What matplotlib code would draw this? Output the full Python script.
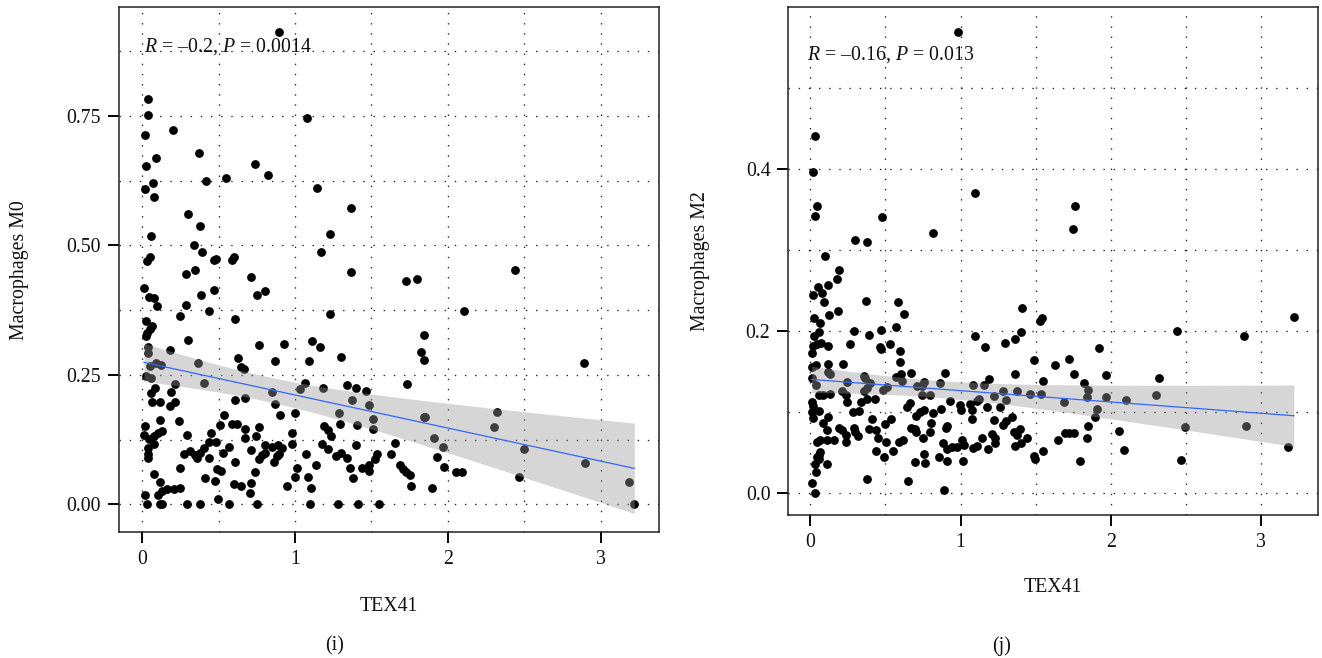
import numpy as np
import matplotlib
matplotlib.use("Agg")
import matplotlib.pyplot as plt
from matplotlib.ticker import MultipleLocator, FixedLocator

plt.rcParams['font.family'] = ['Liberation Serif', 'DejaVu Serif']
plt.rcParams['mathtext.fontset'] = 'custom'
plt.rcParams['mathtext.it'] = 'Liberation Serif:italic'
plt.rcParams['mathtext.rm'] = 'Liberation Serif'

# ---------------- Panel (i): TEX41 vs Macrophages M0 ----------------
m0_tex41 = [
    0.893, 0.035, 0.037, 0.015, 0.199, 1.081, 0.369, 0.090, 0.026, 0.738,
    0.823, 0.419, 0.550, 0.068, 0.015, 0.079, 1.142, 1.367, 0.301, 0.378,
    0.059, 1.227, 0.338, 0.393, 1.170, 0.028, 0.048, 0.468, 0.482, 0.590,
    0.600,
    0.287, 0.348, 0.711, 1.363, 0.011, 0.043, 0.076, 0.096, 0.385, 0.472,
    0.754, 0.802, 0.287, 0.439, 0.246, 0.607, 1.226, 0.022, 0.065, 0.048,
    0.030, 0.026, 0.298, 0.037, 0.039, 0.183, 0.765, 0.930, 1.111, 1.161,
    1.298, 0.626, 0.643, 0.665, 0.870, 1.089, 0.365, 0.050, 0.087, 0.120,
    0.026, 0.054, 0.083, 0.217, 0.191, 0.057, 0.402, 0.607, 0.670, 0.061,
    0.115, 0.217, 0.180, 0.535, 0.852, 0.870, 0.900, 1.000, 1.030, 1.063,
    1.185, 1.341, 1.400, 1.463, 1.370, 1.485, 1.287, 1.407, 1.513, 1.509,
    1.293, 0.115, 0.241, 0.511, 0.587, 0.620, 0.670, 0.761, 1.189, 1.213,
    1.233, 0.983, 0.017, 0.013, 0.043, 0.078, 0.104, 0.130, 0.291, 0.452,
    0.670, 0.746, 0.078, 0.035, 0.039, 0.039, 0.270, 0.315, 0.343, 0.361,
    0.380, 0.407, 0.435, 0.485, 0.439, 0.530, 0.565, 0.711, 0.804, 0.848,
    0.887, 0.913, 0.898, 0.883, 0.761, 0.785, 0.804, 0.861, 0.604, 0.978,
    1.072, 1.176, 1.217, 1.270, 1.302, 1.339, 1.402, 1.539, 1.526, 1.361,
    1.441, 1.483, 1.487, 0.246, 0.491, 0.515, 0.741, 1.015, 1.000, 1.139,
    0.074, 0.117, 0.409, 0.478, 0.600, 0.648, 0.711, 0.702, 0.946, 1.083,
    1.102, 1.380, 0.015, 0.104, 0.126, 0.165, 0.207, 0.246, 0.496, 0.033,
    0.115, 0.130, 0.293, 0.380, 0.565, 0.754, 1.098, 1.278, 1.411, 1.552,
    1.726, 1.798, 2.439, 2.104, 1.846, 1.826, 1.846, 2.889, 1.735, 1.846,
    1.852, 2.324, 2.302, 1.911, 1.970, 1.652, 1.630, 1.928, 1.972, 1.689,
    1.704, 1.726, 1.754, 1.757, 1.898, 2.054, 2.091, 2.496, 2.467, 2.898,
    3.185, 3.220,
]
m0_values = [
    0.912, 0.783, 0.751, 0.713, 0.723, 0.745, 0.679, 0.669, 0.653, 0.656,
    0.635, 0.625, 0.630, 0.620, 0.608, 0.594, 0.611, 0.572, 0.560, 0.537,
    0.518, 0.522, 0.501, 0.487, 0.487, 0.470, 0.478, 0.471, 0.473, 0.471,
    0.478,
    0.445, 0.452, 0.439, 0.448, 0.418, 0.401, 0.398, 0.382, 0.404, 0.414,
    0.405, 0.412, 0.384, 0.374, 0.364, 0.358, 0.367, 0.353, 0.344, 0.338,
    0.330, 0.324, 0.317, 0.304, 0.293, 0.297, 0.308, 0.309, 0.316, 0.304,
    0.285, 0.282, 0.266, 0.261, 0.276, 0.276, 0.272, 0.267, 0.273, 0.268,
    0.248, 0.243, 0.225, 0.232, 0.217, 0.214, 0.234, 0.202, 0.206, 0.197,
    0.198, 0.198, 0.189, 0.173, 0.216, 0.193, 0.173, 0.177, 0.222, 0.235,
    0.225, 0.231, 0.224, 0.219, 0.202, 0.192, 0.177, 0.154, 0.164, 0.145,
    0.155, 0.162, 0.160, 0.154, 0.156, 0.156, 0.145, 0.149, 0.152, 0.143,
    0.131, 0.138, 0.151, 0.133, 0.127, 0.131, 0.137, 0.142, 0.134, 0.138,
    0.129, 0.131, 0.116, 0.108, 0.098, 0.090, 0.098, 0.102, 0.095, 0.090,
    0.100, 0.108, 0.121, 0.121, 0.090, 0.100, 0.111, 0.105, 0.115, 0.111,
    0.115, 0.109, 0.098, 0.093, 0.088, 0.095, 0.100, 0.081, 0.081, 0.116,
    0.097, 0.116, 0.107, 0.093, 0.100, 0.089, 0.115, 0.097, 0.088, 0.071,
    0.071, 0.076, 0.065, 0.071, 0.068, 0.064, 0.063, 0.070, 0.052, 0.076,
    0.058, 0.043, 0.050, 0.046, 0.039, 0.035, 0.041, 0.021, 0.035, 0.053,
    0.032, 0.050, 0.019, 0.019, 0.026, 0.029, 0.030, 0.031, 0.010, 0.000,
    0.000, 0.000, 0.000, 0.000, 0.000, 0.000, 0.000, 0.000, 0.000, 0.000,
    0.432, 0.434, 0.453, 0.373, 0.327, 0.295, 0.279, 0.273, 0.233, 0.169,
    0.168, 0.178, 0.149, 0.129, 0.110, 0.118, 0.098, 0.091, 0.073, 0.076,
    0.068, 0.063, 0.057, 0.035, 0.032, 0.062, 0.062, 0.107, 0.053, 0.080,
    0.044, 0.000,
]

# ---------------- Panel (j): TEX41 vs Macrophages M2 ----------------
m2_tex41 = [
    0.982, 0.033, 0.018, 0.044, 0.033, 0.477, 1.098, 0.814, 0.295, 0.379,
    0.095, 0.188, 1.764, 1.746, 0.177, 0.049, 0.115, 0.018, 0.078, 0.093,
    0.373, 0.583, 0.182, 0.126, 0.621, 0.022, 0.062, 1.412, 1.530, 1.543,
    0.288, 0.470, 0.568, 0.022, 0.055, 0.388, 1.098, 1.404, 1.361, 1.295,
    1.166, 0.266, 0.018, 0.044, 0.073, 0.115, 0.461, 0.470, 0.528, 0.599,
    0.011, 1.486, 0.038, 0.013, 0.115, 0.215, 0.594, 0.603, 0.667, 0.898,
    0.115, 0.129, 0.011, 0.040, 0.355, 0.366, 0.568, 0.610, 1.364, 1.552,
    0.244, 0.399, 0.377, 0.355, 0.483, 0.510, 0.754, 0.743, 0.860, 1.086,
    1.157, 1.191, 0.060, 0.082, 0.133, 0.213, 0.710, 0.743, 0.794, 1.126,
    1.109, 1.220, 1.286, 1.302, 1.379, 1.463, 1.537, 0.239, 0.246, 0.377,
    0.432, 0.335, 0.927, 0.665, 0.645, 0.011, 0.018, 0.013, 0.055, 0.018,
    0.282, 0.322, 0.705, 0.732, 0.754, 0.816, 0.869, 0.998, 1.004, 1.064,
    1.075, 1.175, 1.264, 1.341, 0.115, 0.084, 0.412, 0.539, 0.494, 0.803,
    1.078, 1.224, 1.304, 1.286, 0.193, 0.211, 0.111, 0.288, 0.299, 0.315,
    0.239, 0.239, 0.388, 0.439, 0.670, 0.698, 0.705, 0.900, 0.909, 0.798,
    1.211, 1.231, 1.353, 1.397, 1.375, 1.441, 0.452, 0.752, 1.142, 0.044,
    0.067, 0.111, 0.155, 0.505, 0.588, 0.614, 0.882, 1.009, 1.024, 0.942,
    0.976, 0.909, 1.080, 1.109, 1.182, 1.228, 1.364, 1.401, 1.552, 0.437,
    0.550, 0.067, 0.044, 0.055, 0.060, 0.488, 0.754, 0.700, 0.761, 0.854,
    0.909, 1.016, 1.486, 1.497, 0.033, 0.113, 0.038, 0.009, 0.033, 0.377,
    0.647, 0.887,
    1.627, 1.725, 1.925, 1.754, 1.969, 1.823, 1.847, 1.845, 1.690, 1.969,
    2.102, 2.302, 2.322, 1.911, 1.896, 1.851, 1.698, 1.725, 1.756, 1.650,
    1.843, 2.053, 2.091, 1.794, 2.439, 2.495, 2.466, 2.891, 2.900, 3.220,
    3.182,
]
m2_values = [
    0.569, 0.440, 0.396, 0.354, 0.341, 0.340, 0.370, 0.320, 0.312, 0.310,
    0.292, 0.275, 0.354, 0.325, 0.264, 0.254, 0.256, 0.244, 0.246, 0.235,
    0.237, 0.235, 0.224, 0.219, 0.221, 0.215, 0.210, 0.228, 0.212, 0.215,
    0.200, 0.201, 0.205, 0.194, 0.198, 0.195, 0.194, 0.198, 0.190, 0.185,
    0.180, 0.183, 0.181, 0.184, 0.185, 0.181, 0.180, 0.177, 0.183, 0.175,
    0.172, 0.164, 0.158, 0.155, 0.159, 0.159, 0.161, 0.147, 0.148, 0.148,
    0.149, 0.147, 0.141, 0.133, 0.144, 0.141, 0.143, 0.138, 0.146, 0.138,
    0.137, 0.135, 0.129, 0.126, 0.127, 0.130, 0.137, 0.132, 0.135, 0.133,
    0.133, 0.140, 0.121, 0.121, 0.122, 0.126, 0.132, 0.120, 0.120, 0.116,
    0.113, 0.119, 0.125, 0.114, 0.125, 0.122, 0.122, 0.120, 0.112, 0.116,
    0.116, 0.112, 0.113, 0.111, 0.106, 0.112, 0.107, 0.100, 0.101, 0.092,
    0.100, 0.101, 0.095, 0.100, 0.102, 0.098, 0.103, 0.108, 0.102, 0.109,
    0.102, 0.106, 0.106, 0.093, 0.093, 0.086, 0.091, 0.091, 0.085, 0.086,
    0.091, 0.090, 0.089, 0.084, 0.080, 0.077, 0.078, 0.080, 0.075, 0.070,
    0.071, 0.063, 0.079, 0.077, 0.080, 0.079, 0.075, 0.080, 0.082, 0.075,
    0.072, 0.067, 0.075, 0.079, 0.071, 0.068, 0.067, 0.067, 0.068, 0.063,
    0.065, 0.065, 0.065, 0.063, 0.063, 0.065, 0.061, 0.065, 0.059, 0.056,
    0.056, 0.054, 0.055, 0.058, 0.054, 0.061, 0.058, 0.061, 0.052, 0.052,
    0.051, 0.050, 0.044, 0.042, 0.046, 0.044, 0.048, 0.038, 0.037, 0.044,
    0.039, 0.039, 0.045, 0.042, 0.036, 0.036, 0.026, 0.012, 0.000, 0.017,
    0.015, 0.003,
    0.158, 0.165, 0.178, 0.146, 0.145, 0.135, 0.127, 0.118, 0.112, 0.118,
    0.114, 0.121, 0.142, 0.103, 0.094, 0.082, 0.074, 0.074, 0.074, 0.065,
    0.067, 0.076, 0.053, 0.039, 0.200, 0.081, 0.041, 0.194, 0.082, 0.217,
    0.056,
]

panels = [
    dict(x=m0_tex41, y=m0_values, ylabel="Macrophages M0", tag="(i)",
         stat="$R$ = \u20130.2, $P$ = 0.0014",
         yticks=[0.0, 0.25, 0.5, 0.75], yticklabels=["0.00", "0.25", "0.50", "0.75"],
         yminor=0.125, ylim=(-0.054, 0.9595), xlim=(-0.154, 3.38),
         rect=[0.0898, 0.191, 0.4085, 0.798],
         ylabel_x=0.0151, xlabel_y=0.079, tag_x=0.2531,
         stat_pos=(0.1090, 0.9220)),
    dict(x=m2_tex41, y=m2_values, ylabel="Macrophages M2", tag="(j)",
         stat="$R$ = \u20130.16, $P$ = 0.013",
         yticks=[0.0, 0.2, 0.4], yticklabels=["0.0", "0.2", "0.4"],
         yminor=0.1, ylim=(-0.0275, 0.599), xlim=(-0.146, 3.38),
         rect=[0.5964, 0.2173, 0.4005, 0.7716],
         ylabel_x=0.5300, xlabel_y=0.1064, tag_x=0.7577,
         stat_pos=(0.6105, 0.9099)),
]

FS = 14.3
fig = plt.figure(figsize=(13.22, 6.58), dpi=100)

for p in panels:
    ax = fig.add_axes(p["rect"])
    x = np.asarray(p["x"], float)
    y = np.asarray(p["y"], float)

    # grid (major + minor, dotted)
    ax.set_xlim(*p["xlim"])
    ax.set_ylim(*p["ylim"])
    ax.xaxis.set_major_locator(FixedLocator([0, 1, 2, 3]))
    ax.xaxis.set_minor_locator(MultipleLocator(0.5))
    ax.yaxis.set_major_locator(FixedLocator(p["yticks"]))
    ax.yaxis.set_minor_locator(MultipleLocator(p["yminor"]))
    ax.set_yticklabels(p["yticklabels"])
    ax.grid(True, which="both", color="#2a2a2a", linewidth=0.95,
            linestyle=(0, (1.1, 6.6)))
    ax.set_axisbelow(True)

    # points
    ax.scatter(x, y, s=40, color="black", linewidths=0, zorder=2)

    # linear fit with 95% confidence band
    n = len(x)
    slope, intercept = np.polyfit(x, y, 1)
    xs = np.linspace(x.min(), x.max(), 200)
    yhat = intercept + slope * xs
    resid = y - (intercept + slope * x)
    s = np.sqrt(np.sum(resid ** 2) / (n - 2))
    sxx = np.sum((x - x.mean()) ** 2)
    se = s * np.sqrt(1.0 / n + (xs - x.mean()) ** 2 / sxx)
    tval = 1.97
    ax.fill_between(xs, yhat - tval * se, yhat + tval * se,
                    color="#999999", alpha=0.4, linewidth=0, zorder=3)
    ax.plot(xs, yhat, color="#3366FF", linewidth=0.9, zorder=4)

    # axes styling
    for side in ["top", "right", "bottom", "left"]:
        ax.spines[side].set_color("#222222")
        ax.spines[side].set_linewidth(1.1)
    ax.tick_params(which="major", direction="out", length=8, width=1.4,
                   color="black", labelsize=FS, labelcolor="#111111", pad=5)
    ax.tick_params(which="minor", length=0)
    ax.tick_params(top=False, right=False)

    fig.text(p["stat_pos"][0], p["stat_pos"][1], p["stat"], fontsize=FS,
             ha="left", va="baseline", color="#111111")
    fig.text(p["ylabel_x"], p["rect"][1] + p["rect"][3] / 2, p["ylabel"],
             rotation=90, ha="center", va="center", fontsize=FS, color="#111111")
    fig.text(p["rect"][0] + p["rect"][2] / 2, p["xlabel_y"], "TEX41",
             ha="center", va="center", fontsize=FS, color="#111111")
    fig.text(p["tag_x"], 0.0182, p["tag"], ha="center", va="center",
             fontsize=FS, color="#111111")

fig.savefig("out.png", dpi=100)
